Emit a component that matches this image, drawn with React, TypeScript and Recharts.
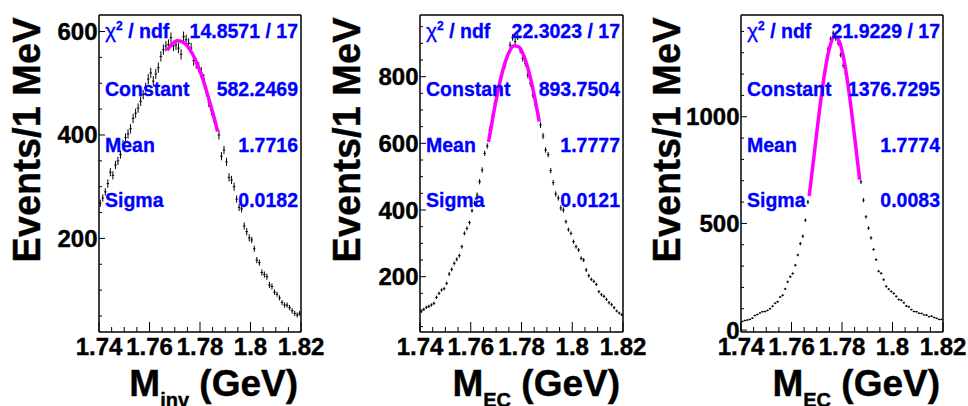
import React from 'react';
import {
  ComposedChart,
  Scatter,
  Line,
  XAxis,
  YAxis,
  ErrorBar,
  ReferenceLine,
} from 'recharts';

// binning: 1 MeV bins from 1.74 to 1.82 GeV
const BIN_LOW = 1.74;
const BIN_WIDTH = 0.001;

const X_TICKS = [1.74, 1.745, 1.75, 1.755, 1.76, 1.765, 1.77, 1.775, 1.78, 1.785, 1.79, 1.795, 1.8, 1.805, 1.81, 1.815, 1.82];
const X_MAJOR = [1.74, 1.76, 1.78, 1.8, 1.82];

// M_inv histogram
const MINV_COUNTS = [
  268, 278, 290, 306, 328, 322, 342, 350, 362, 382,
  395, 402, 412, 432, 442, 452, 465, 478, 492, 508,
  520, 504, 518, 530, 552, 565, 572, 575, 588, 572,
  574, 568, 556, 590, 584, 577, 568, 544, 538, 531,
  521, 508, 485, 463, 447, 433, 416, 400, 359, 371,
  348, 318, 313, 300, 276, 260, 257, 224, 213, 201,
  197, 180, 158, 153, 134, 130, 126, 110, 107, 96,
  92, 85, 76, 71, 71, 66, 60, 55, 52, 55,
];
const MINV_ERRS = [
  7, 7, 7, 8, 8, 8, 8, 8, 8, 8,
  8, 9, 9, 9, 9, 9, 9, 9, 9, 10,
  10, 10, 10, 10, 10, 10, 10, 10, 10, 10,
  10, 10, 10, 10, 10, 10, 10, 10, 10, 10,
  10, 10, 9, 9, 9, 9, 9, 9, 8, 8,
  8, 8, 8, 8, 7, 7, 7, 7, 7, 7,
  6, 6, 6, 6, 6, 6, 6, 6, 6, 5,
  5, 5, 5, 5, 5, 5, 5, 5, 5, 5,
];

// M_EC histogram (middle)
const MEC_COUNTS = [
  95, 102, 108, 111, 115, 120, 138, 150, 160, 164,
  180, 208, 222, 240, 252, 263, 290, 330, 345, 362,
  398, 420, 445, 485, 520, 570, 592, 640, 680, 720,
  760, 790, 815, 835, 860, 895, 918, 905, 920, 880,
  855, 840, 805, 780, 745, 715, 690, 655, 622, 580,
  566, 518, 482, 448, 436, 406, 400, 365, 341, 330,
  305, 290, 280, 255, 250, 220, 203, 192, 186, 177,
  155, 146, 141, 132, 122, 116, 107, 97, 91, 86,
];
const MEC_ERRS = [
  4, 5, 5, 5, 5, 5, 5, 5, 5, 5,
  5, 6, 6, 6, 6, 6, 6, 6, 6, 6,
  6, 8, 8, 8, 8, 8, 8, 9, 9, 9,
  9, 9, 10, 10, 10, 10, 10, 10, 10, 10,
  10, 10, 10, 9, 9, 9, 9, 9, 9, 8,
  8, 8, 8, 8, 8, 8, 8, 6, 6, 6,
  6, 6, 6, 6, 6, 6, 6, 5, 5, 5,
  5, 5, 5, 5, 5, 5, 5, 4, 4, 4,
];

// M_EC histogram (right, narrow)
const MEC2_COUNTS = [
  40, 45, 47, 50, 56, 68, 73, 80, 86, 87,
  92, 100, 112, 126, 133, 155, 163, 193, 226, 250,
  265, 304, 352, 405, 440, 515, 600, 676, 775, 875,
  974, 1069, 1157, 1233, 1318, 1365, 1392, 1368, 1345, 1290,
  1240, 1200, 1130, 1050, 950, 855, 760, 695, 609, 531,
  478, 432, 378, 330, 276, 266, 236, 205, 192, 181,
  172, 158, 143, 140, 128, 113, 109, 96, 87, 86,
  79, 78, 71, 70, 63, 65, 59, 55, 50, 50,
];
const MEC2_ERRS = [
  4, 4, 4, 4, 4, 4, 4, 4, 4, 4,
  4, 5, 5, 5, 5, 5, 5, 5, 6, 6,
  6, 6, 6, 8, 8, 8, 10, 10, 10, 10,
  10, 12, 12, 12, 12, 12, 12, 12, 12, 12,
  12, 12, 12, 12, 10, 10, 10, 10, 10, 8,
  8, 8, 6, 6, 6, 6, 6, 6, 5, 5,
  5, 5, 5, 5, 5, 5, 5, 4, 4, 4,
  4, 4, 4, 4, 4, 4, 4, 4, 4, 4,
];

// gaussian fit curves (magenta)
const FIT_X = [1.767, 1.769, 1.771, 1.773, 1.775, 1.777, 1.779, 1.781, 1.783, 1.785, 1.787];
const MINV_FIT = [564, 576, 582, 580, 572, 557, 536, 510, 478, 444, 407];
const MEC_FIT = [604, 690, 767, 829, 872, 893, 889, 861, 812, 745, 665];
const MEC2_FIT = [628, 825, 1023, 1196, 1320, 1376, 1351, 1253, 1096, 905, 705];

const MINV_YTICKS = [50, 100, 150, 200, 250, 300, 350, 400, 450, 500, 550, 600];
const MEC_YTICKS = [50, 100, 150, 200, 250, 300, 350, 400, 450, 500, 550, 600, 650, 700, 750, 800, 850, 900, 950];
const MEC2_YTICKS = [0, 100, 200, 300, 400, 500, 600, 700, 800, 900, 1000, 1100, 1200, 1300, 1400];

const FONT = '"Liberation Sans", Arial, Helvetica, sans-serif';
const BLUE = '#0000ff';
const W = 326;
const H = 406;
const TOP = 15;
const BOTTOM = 332;
const PLOT_LEFT = 99;
const Y_AXIS_W = 60;
const X_AXIS_H = 30;

const PANELS = [
  {
    left: 0, plotW: 202, titleX: 40, sub: 'inv',
    counts: MINV_COUNTS, errs: MINV_ERRS, fit: MINV_FIT,
    yDomain: [19, 632], yTicks: MINV_YTICKS, yMajor: [200, 400, 600],
    stats: ['14.8571 / 17', '582.2469', '1.7716', '0.0182'],
  },
  {
    left: 321, plotW: 203, titleX: 39, sub: 'EC',
    counts: MEC_COUNTS, errs: MEC_ERRS, fit: MEC_FIT,
    yDomain: [34, 985], yTicks: MEC_YTICKS, yMajor: [200, 400, 600, 800],
    stats: ['22.3023 / 17', '893.7504', '1.7777', '0.0121'],
  },
  {
    left: 642, plotW: 202, titleX: 38, sub: 'EC',
    counts: MEC2_COUNTS, errs: MEC2_ERRS, fit: MEC2_FIT,
    yDomain: [-9, 1477], yTicks: MEC2_YTICKS, yMajor: [0, 500, 1000],
    stats: ['21.9229 / 17', '1376.7295', '1.7774', '0.0083'],
  },
];

const labelStyle = {
  fontSize: 24,
  fontWeight: 'bold' as const,
  fontFamily: FONT,
  fill: '#000',
  stroke: '#000',
  strokeWidth: 0.4,
};

function XTick(props: any) {
  const { x, y, payload } = props;
  const v = payload.value;
  const major = X_MAJOR.includes(v);
  return (
    <g>
      <line x1={x} x2={x} y1={y} y2={y - (major ? 10 : 5)} stroke="#000" strokeWidth={1} />
      {major && (
        <text x={x} y={y + 23} textAnchor="middle" {...labelStyle}>
          {String(v)}
        </text>
      )}
    </g>
  );
}

function makeYTick(majors: number[]) {
  return (props: any) => {
    const { x, y, payload } = props;
    const v = payload.value;
    const major = majors.includes(v);
    return (
      <g>
        <line x1={x} x2={x + (major ? 6 : 3)} y1={y} y2={y} stroke="#000" strokeWidth={1} />
        {major && (
          <text x={x - 1.5} y={y + 8.5} textAnchor="end" {...labelStyle}>
            {String(v)}
          </text>
        )}
      </g>
    );
  };
}

const noMarker = () => <g />;

function Panel({ p }: { p: any }) {
  const points = p.counts.map((c: number, i: number) => ({
    x: BIN_LOW + (i + 0.5) * BIN_WIDTH,
    y: c,
    ye: p.errs[i],
    xe: BIN_WIDTH / 2,
  }));
  const fit = FIT_X.map((x, i) => ({ x, fy: p.fit[i] }));
  const right = W - PLOT_LEFT - p.plotW;
  const lx = PLOT_LEFT + 6;
  const rx = PLOT_LEFT + p.plotW - 3;
  const statStyle = {
    fontSize: 19.5,
    fontWeight: 'bold' as const,
    fontFamily: FONT,
    fill: BLUE,
    stroke: BLUE,
    strokeWidth: 0.3,
  };
  const rows = [
    { label: 'Constant', y: 96, value: p.stats[1] },
    { label: 'Mean', y: 152, value: p.stats[2] },
    { label: 'Sigma', y: 207, value: p.stats[3] },
  ];

  return (
    <div style={{ position: 'absolute', left: p.left, top: 0, width: W, height: H }}>
      <ComposedChart
        width={W}
        height={H}
        margin={{ top: TOP, right, bottom: H - BOTTOM - X_AXIS_H, left: PLOT_LEFT - Y_AXIS_W }}
      >
        <XAxis
          type="number"
          dataKey="x"
          domain={[1.74, 1.82]}
          allowDataOverflow
          ticks={X_TICKS}
          interval={0}
          tickSize={0}
          tickMargin={0}
          tickLine={false}
          height={X_AXIS_H}
          axisLine={{ stroke: '#000', strokeWidth: 1.5 }}
          tick={(props: any) => <XTick {...props} />}
        />
        <YAxis
          type="number"
          domain={p.yDomain}
          allowDataOverflow
          ticks={p.yTicks}
          interval={0}
          tickSize={0}
          tickMargin={0}
          tickLine={false}
          width={Y_AXIS_W}
          axisLine={{ stroke: '#000', strokeWidth: 1.5 }}
          tick={makeYTick(p.yMajor)}
        />
        <ReferenceLine y={p.yDomain[1]} stroke="#000" strokeWidth={1.5} />
        <ReferenceLine x={1.82} stroke="#000" strokeWidth={1.5} />
        <Scatter data={points} dataKey="y" shape={noMarker} isAnimationActive={false}>
          <ErrorBar dataKey="ye" direction="y" width={0} stroke="#000" strokeWidth={1} />
          <ErrorBar dataKey="xe" direction="x" width={0} stroke="#000" strokeWidth={1} />
        </Scatter>
        <Line
          data={fit}
          dataKey="fy"
          type="monotone"
          stroke="#ff00ff"
          strokeWidth={3.5}
          dot={false}
          activeDot={false}
          isAnimationActive={false}
        />
      </ComposedChart>
      <svg width={W} height={H} style={{ position: 'absolute', left: 0, top: 0, pointerEvents: 'none' }}>
        <text
          transform={`translate(${p.titleX},140) rotate(-90)`}
          textAnchor="middle"
          fontSize={38}
          fontWeight="bold"
          fontFamily={FONT}
          fill="#000"
          stroke="#000"
          strokeWidth={0.4}
        >
          Events/1 MeV
        </text>
        <text
          x={PLOT_LEFT + p.plotW - 3}
          y={396}
          textAnchor="end"
          fontSize={37}
          fontWeight="bold"
          fontFamily={FONT}
          fill="#000"
          stroke="#000"
          strokeWidth={0.4}
          style={{ whiteSpace: 'pre' }}
        >
          M<tspan fontSize={20} dy={11}>{p.sub}</tspan>
          <tspan dy={-11}>{' (GeV)'}</tspan>
        </text>
        <text x={lx} y={38} {...statStyle} style={{ whiteSpace: 'pre' }}>
          <tspan fontWeight="normal" fontSize={21}>χ</tspan>
          <tspan fontSize={12} dy={-8}>2</tspan>
          <tspan dy={8}>{' / ndf'}</tspan>
        </text>
        <text x={rx} y={38} textAnchor="end" {...statStyle}>{p.stats[0]}</text>
        {rows.map((r) => (
          <g key={r.label}>
            <text x={lx} y={r.y} {...statStyle}>{r.label}</text>
            <text x={rx} y={r.y} textAnchor="end" {...statStyle}>{r.value}</text>
          </g>
        ))}
      </svg>
    </div>
  );
}

export default function App() {
  return (
    <div style={{ position: 'absolute', left: 0, top: 0, width: 968, height: 406, background: '#fff', overflow: 'hidden' }}>
      {PANELS.map((p, i) => (
        <Panel key={i} p={p} />
      ))}
    </div>
  );
}
